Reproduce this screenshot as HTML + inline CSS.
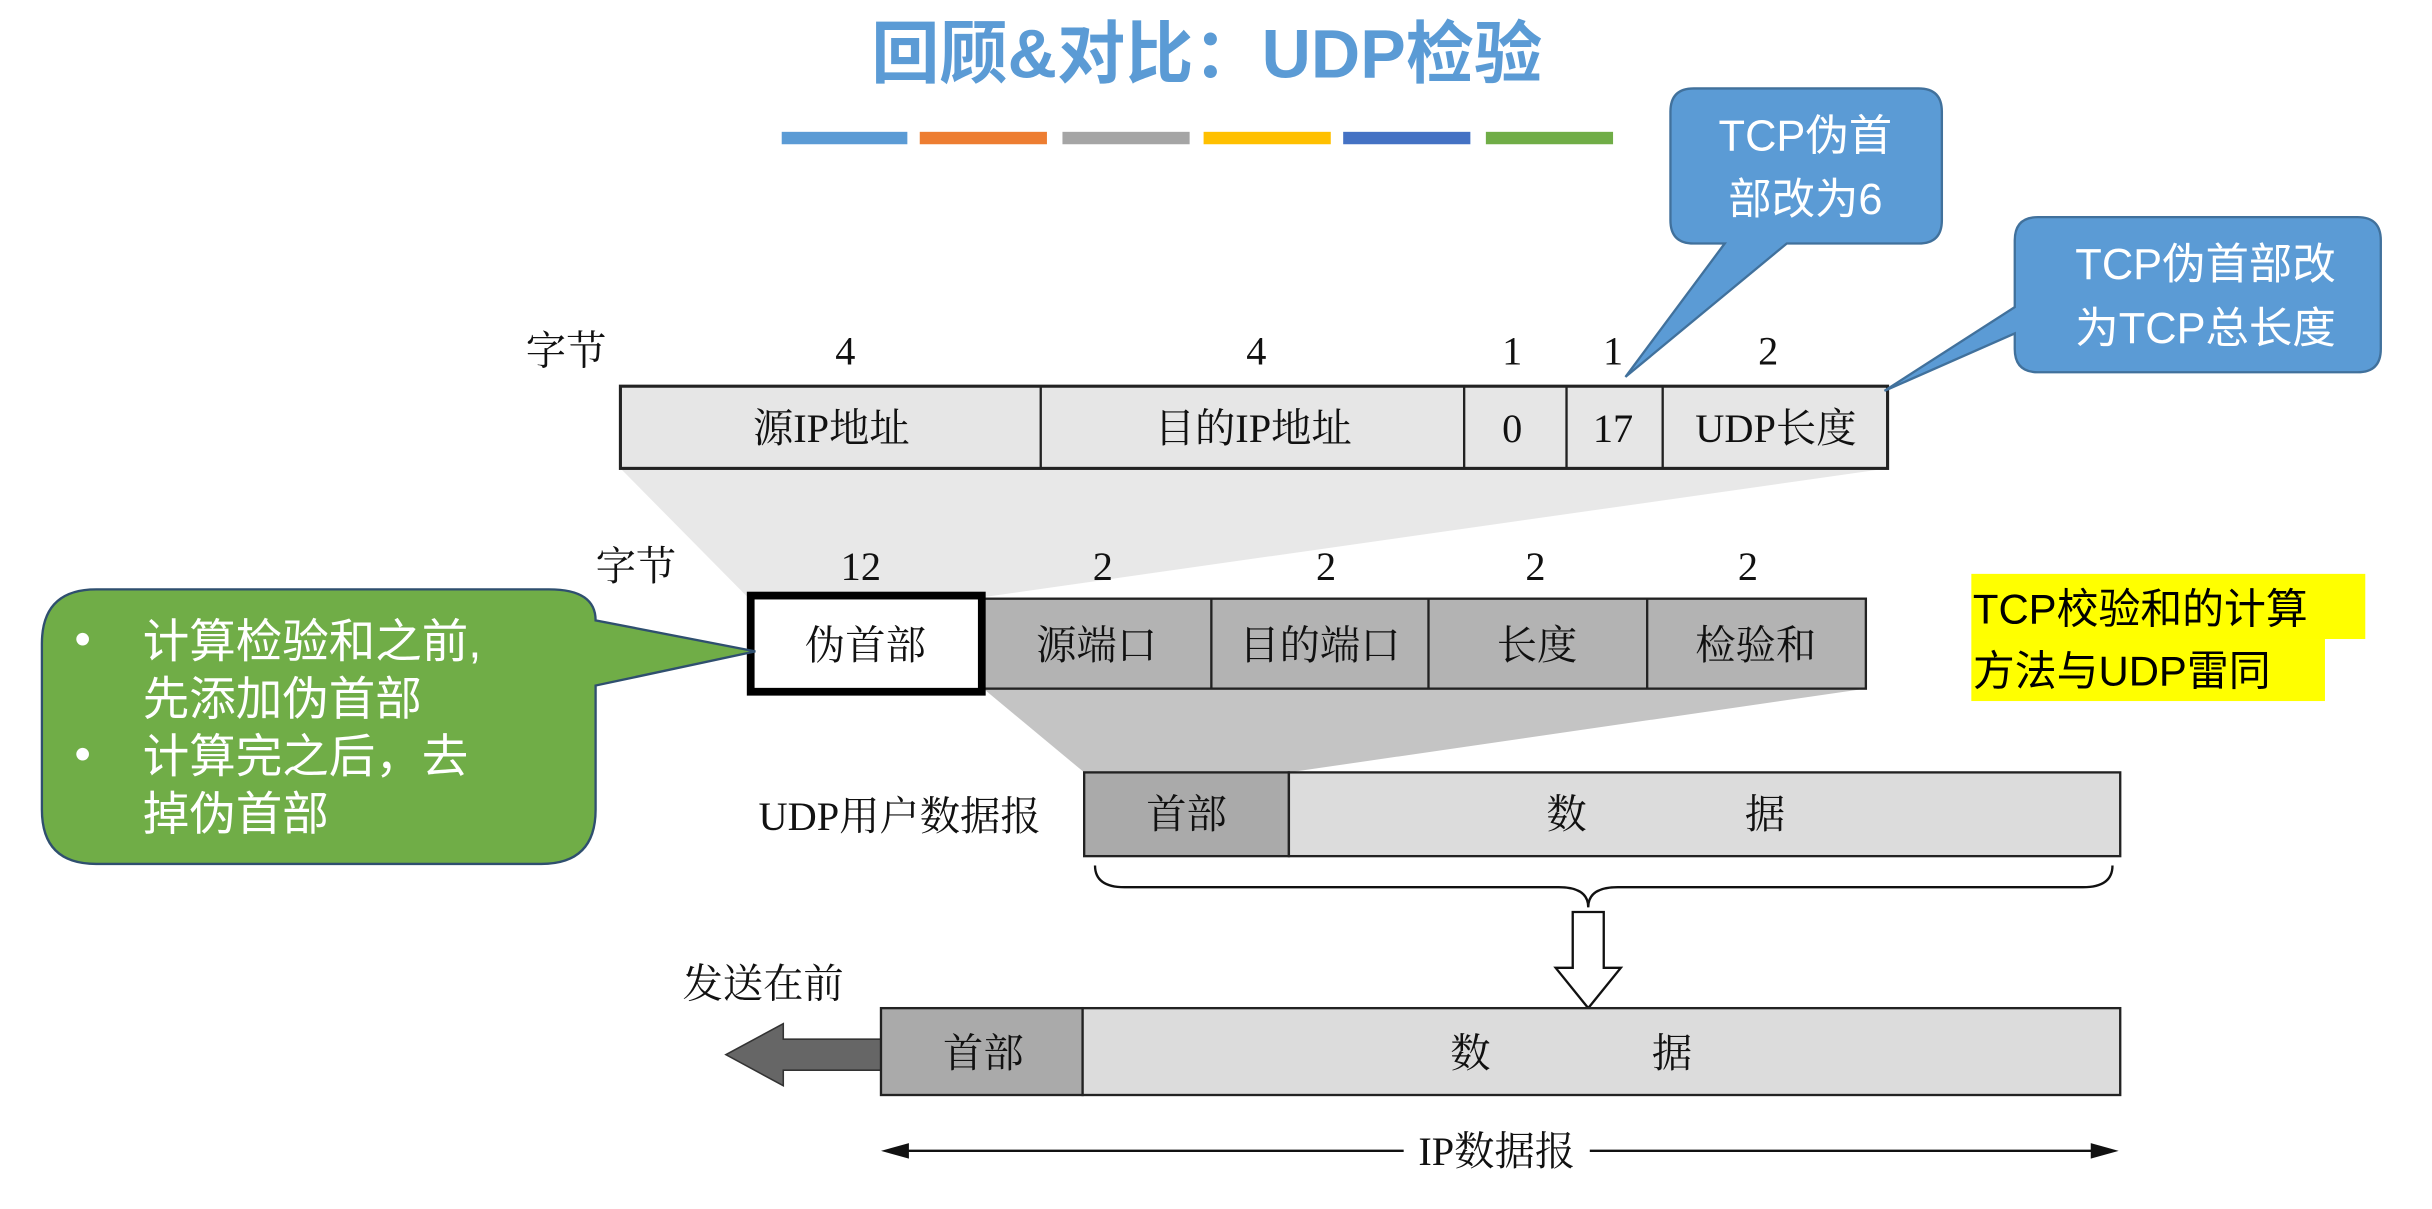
<!DOCTYPE html>
<html><head><meta charset="utf-8"><style>html,body{margin:0;padding:0;background:#fff}svg{display:block}</style></head>
<body>
<svg width="2432" height="1209" viewBox="0 0 1568 779.5" xmlns="http://www.w3.org/2000/svg" font-family="'Liberation Serif','Noto Serif CJK SC',serif">
<text x="778" y="50" text-anchor="middle" font-family="'Liberation Sans','Noto Sans CJK SC',sans-serif" font-size="44" font-weight="bold" fill="#5b9bd5">回顾&amp;对比：UDP检验</text>
<rect x="504" y="85" width="81" height="8" fill="#5b9bd5"/>
<rect x="593" y="85" width="82" height="8" fill="#ed7d31"/>
<rect x="685" y="85" width="82" height="8" fill="#a5a5a5"/>
<rect x="776" y="85" width="82" height="8" fill="#ffc000"/>
<rect x="866" y="85" width="82" height="8" fill="#4472c4"/>
<rect x="958" y="85" width="82" height="8" fill="#70ad47"/>

<polygon points="400,302 1217,302 634,385 482,385" fill="#e8e8e8"/>
<polygon points="634,444 1203,444 831,498 699,498" fill="#c4c4c4"/>

<g font-size="26" text-anchor="middle" fill="#111">
<text x="365" y="235">字节</text><text x="545" y="235">4</text><text x="810" y="235">4</text><text x="975" y="235">1</text><text x="1040" y="235">1</text><text x="1140" y="235">2</text>
</g>
<g stroke="#222" stroke-width="1.5" fill="#e6e6e6">
<rect x="400" y="249" width="817" height="53" stroke-width="2"/>
<line x1="671" y1="249" x2="671" y2="302"/><line x1="944" y1="249" x2="944" y2="302"/><line x1="1010" y1="249" x2="1010" y2="302"/><line x1="1072" y1="249" x2="1072" y2="302"/>
</g>
<g font-size="26" text-anchor="middle" fill="#111">
<text x="536" y="285">源IP地址</text><text x="808" y="285">目的IP地址</text><text x="975" y="285">0</text><text x="1040" y="285">17</text><text x="1145" y="285">UDP长度</text>
</g>

<g font-size="26" text-anchor="middle" fill="#111">
<text x="410" y="374">字节</text><text x="555" y="374">12</text><text x="711" y="374">2</text><text x="855" y="374">2</text><text x="990" y="374">2</text><text x="1127" y="374">2</text>
</g>
<rect x="634" y="386" width="569" height="58" fill="#b3b3b3" stroke="#222" stroke-width="1.5"/>
<g stroke="#222" stroke-width="1.5"><line x1="781" y1="386" x2="781" y2="444"/><line x1="921" y1="386" x2="921" y2="444"/><line x1="1062" y1="386" x2="1062" y2="444"/></g>
<rect x="484" y="384" width="149" height="62" fill="#fff" stroke="#000" stroke-width="5"/>
<g font-size="26" text-anchor="middle" fill="#111">
<text x="558" y="425">伪首部</text><text x="707" y="425">源端口</text><text x="851" y="425">目的端口</text><text x="991" y="425">长度</text><text x="1132" y="425">检验和</text>
</g>

<text x="580" y="535" font-size="26" text-anchor="middle" fill="#111">UDP用户数据报</text>
<rect x="699" y="498" width="132" height="54" fill="#aaa" stroke="#222" stroke-width="1.5"/>
<rect x="831" y="498" width="536" height="54" fill="#dcdcdc" stroke="#222" stroke-width="1.5"/>
<text x="765" y="534" font-size="26" text-anchor="middle" fill="#111">首部</text>
<text x="1010" y="534" font-size="26" text-anchor="middle" fill="#111">数</text>
<text x="1138" y="534" font-size="26" text-anchor="middle" fill="#111">据</text>
<path d="M706,558 Q706,572 725,572 L1005,572 Q1024,572 1024,585 Q1024,572 1043,572 L1343,572 Q1362,572 1362,558" fill="none" stroke="#111" stroke-width="1.5"/>
<polygon points="1014,588 1034,588 1034,624 1045,624 1024,650 1003,624 1014,624" fill="#fff" stroke="#111" stroke-width="1.5"/>

<text x="492" y="643" font-size="26" text-anchor="middle" fill="#111">发送在前</text>
<polygon points="568,670 505,670 505,660 468,680 505,700 505,690 568,690" fill="#666" stroke="#333" stroke-width="1"/>
<rect x="568" y="650" width="130" height="56" fill="#aaa" stroke="#222" stroke-width="1.5"/>
<rect x="698" y="650" width="669" height="56" fill="#dcdcdc" stroke="#222" stroke-width="1.5"/>
<text x="634" y="688" font-size="26" text-anchor="middle" fill="#111">首部</text>
<text x="948" y="688" font-size="26" text-anchor="middle" fill="#111">数</text>
<text x="1078" y="688" font-size="26" text-anchor="middle" fill="#111">据</text>
<line x1="572" y1="742" x2="905" y2="742" stroke="#111" stroke-width="1.5"/>
<line x1="1025" y1="742" x2="1362" y2="742" stroke="#111" stroke-width="1.5"/>
<polygon points="568,742 586,737 586,747" fill="#111"/>
<polygon points="1366,742 1348,737 1348,747" fill="#111"/>
<text x="965" y="751" font-size="26" text-anchor="middle" fill="#111">IP数据报</text>

<g font-family="'Liberation Sans','Noto Sans CJK SC',sans-serif" font-size="28" fill="#fff" text-anchor="middle">
<path d="M1092,57 L1237,57 Q1252,57 1252,72 L1252,142 Q1252,157 1237,157 L1152,157 L1048,243 L1112,157 L1092,157 Q1077,157 1077,142 L1077,72 Q1077,57 1092,57 Z" fill="#5b9bd5" stroke="#41719c" stroke-width="1.5"/>
<text x="1164" y="97">TCP伪首</text><text x="1164" y="138">部改为6</text>
<path d="M1314,140 L1520,140 Q1535,140 1535,155 L1535,225 Q1535,240 1520,240 L1314,240 Q1299,240 1299,225 L1299,215 L1215,252 L1299,198 L1299,155 Q1299,140 1314,140 Z" fill="#5b9bd5" stroke="#41719c" stroke-width="1.5"/>
<text x="1422" y="180">TCP伪首部改</text><text x="1422" y="221">为TCP总长度</text>
</g>

<path d="M62,380 L354,380 Q384,380 384,400 L487,420 L384,442 L384,522 Q384,557 349,557 L62,557 Q27,557 27,522 L27,415 Q27,380 62,380 Z" fill="#70ad47" stroke="#2f4f6f" stroke-width="1.5"/>
<g font-family="'Liberation Sans','Noto Sans CJK SC',sans-serif" font-size="30" fill="#fff">
<text x="48" y="422">•</text><text x="92" y="424">计算检验和之前,</text><text x="92" y="461">先添加伪首部</text>
<text x="48" y="496">•</text><text x="92" y="498">计算完之后，去</text><text x="92" y="535">掉伪首部</text>
</g>

<rect x="1271" y="370" width="254" height="42" fill="#ffff00"/>
<rect x="1271" y="412" width="228" height="40" fill="#ffff00"/>
<g font-family="'Liberation Sans','Noto Sans CJK SC',sans-serif" font-size="27" fill="#000">
<text x="1272" y="402">TCP校验和的计算</text><text x="1272" y="442">方法与UDP雷同</text>
</g>
</svg>
</body></html>
